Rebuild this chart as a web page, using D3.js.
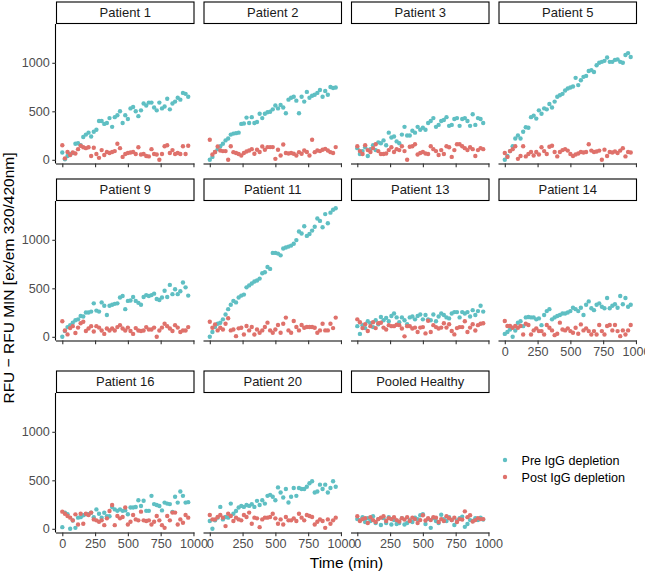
<!DOCTYPE html>
<html><head><meta charset="utf-8">
<script src="https://cdn.jsdelivr.net/npm/d3@7"></script>
<style>body{margin:0;background:#fff}svg{display:block}text{font-family:"Liberation Sans",Arial,Helvetica,sans-serif}</style>
</head><body>
<script>
const panels = ["Patient 1","Patient 2","Patient 3","Patient 5","Patient 9","Patient 11","Patient 13","Patient 14","Patient 16","Patient 20","Pooled Healthy"];
const seriesNames = ["Pre IgG depletion","Post IgG depletion"];
const time = [0,20,40,60,80,100,120,140,160,180,200,220,240,260,280,300,320,340,360,380,400,420,440,460,480,500,520,540,560,580,600,620,640,660,680,700,720,740,760,780,800,820,840,860,880,900,920,940,960];
const xTicks = [0,250,500,750,1000];
const yTicks = [0,500,1000];

const p1Pre  = [75,5,40,60,70,165,170,150,235,260,280,240,290,310,400,400,370,380,430,340,440,460,500,380,460,420,530,545,500,450,510,580,560,590,590,540,510,590,530,550,630,520,580,600,640,620,690,680,650];
const p1Post = [150,15,80,50,75,65,110,145,130,120,130,40,125,60,20,100,50,80,70,80,90,165,120,30,60,70,75,80,60,130,55,60,40,35,110,60,55,0,60,140,150,70,100,60,70,60,140,60,145];
const p2Pre  = [0,30,80,110,140,165,200,220,260,270,275,280,370,375,435,380,440,380,390,475,430,475,490,495,520,560,530,565,540,480,620,640,650,610,480,650,600,700,640,660,670,690,720,650,710,670,750,740,745];
const p2Post = [207,55,80,137,96,90,90,0,140,79,70,60,45,70,85,96,110,62,103,80,137,103,131,131,131,10,103,44,158,70,65,70,62,44,79,62,96,80,44,207,79,96,90,103,113,96,79,70,131];
const p3Pre  = [120,60,90,130,40,110,150,100,180,170,200,150,280,230,240,190,170,260,340,250,250,300,280,340,310,330,310,380,400,430,340,360,400,410,440,350,360,420,430,350,420,430,400,350,470,360,430,420,380];
const p3Post = [140,90,60,150,100,80,120,160,90,60,60,65,100,130,80,110,100,140,90,0,135,140,160,55,70,80,65,60,140,110,90,50,100,60,140,130,30,100,160,160,140,120,100,130,110,40,100,120,110];
const p5Pre  = [0,40,90,140,220,250,220,290,335,330,440,455,425,510,475,530,520,575,540,600,650,665,680,715,735,745,755,845,770,820,855,865,915,925,905,975,1000,1010,1020,1055,1010,1010,1030,1035,1010,1000,1080,1100,1060];
const p5Post = [70,30,90,110,140,10,40,140,35,60,80,45,80,55,130,90,60,135,145,80,35,80,100,110,95,60,40,55,65,80,75,80,160,95,80,85,95,0,105,40,80,75,85,70,95,120,35,80,75];
const p9Pre  = [0,60,100,120,145,170,180,215,210,250,250,260,345,270,260,355,320,225,320,330,340,345,405,420,285,370,375,410,370,350,330,410,430,420,430,445,390,380,405,475,410,535,440,490,440,470,560,510,425];
const p9Post = [160,65,25,90,110,40,95,140,155,60,85,110,55,110,95,65,30,85,65,85,65,100,120,85,65,95,60,30,90,65,60,65,100,75,75,95,0,65,95,135,110,85,60,120,95,50,65,65,100];
const p11Pre = [0,50,100,135,145,180,230,285,330,370,355,405,425,435,510,530,550,570,580,600,655,665,720,700,865,865,858,840,910,920,930,940,960,997,1085,1065,1140,1040,1060,1095,1135,1220,1195,1130,1265,1170,1280,1310,1325];
const p11Post= [156,94,128,66,94,76,135,191,66,76,7,87,94,24,111,66,101,24,76,42,66,101,146,66,42,76,122,42,135,198,66,42,163,101,66,122,94,101,101,101,94,42,66,135,66,66,135,90,198];
const p13Pre = [110,30,120,90,160,140,100,170,130,205,170,195,160,215,240,200,150,200,170,130,200,210,180,215,230,180,225,180,170,230,160,210,240,225,200,190,240,255,255,200,255,240,255,210,275,225,265,320,260];
const p13Post= [180,150,90,130,60,110,150,90,140,145,95,75,120,110,110,125,120,85,5,110,110,85,95,50,95,100,35,165,50,120,100,85,95,140,95,130,60,25,90,100,100,160,50,95,130,65,120,135,140];
const p14Pre = [30,50,75,0,65,145,160,110,200,205,200,200,180,190,120,225,265,285,180,200,215,225,240,240,250,265,300,285,265,300,225,330,365,295,275,330,345,310,295,400,295,320,335,300,420,335,400,310,330];
const p14Post= [163,111,111,94,111,94,111,24,135,122,24,66,87,59,59,24,122,94,66,17,31,146,76,66,87,59,42,94,31,128,66,87,59,24,59,24,122,59,24,111,122,66,122,59,7,66,24,66,122];
const p16Pre = [17,165,150,0,85,10,115,120,140,150,150,165,120,200,155,115,165,130,130,225,200,185,200,185,190,150,220,220,225,295,235,290,185,185,340,255,245,235,190,270,260,255,175,330,270,385,340,270,275];
const p16Post= [177,156,132,115,87,149,45,156,52,156,142,167,97,87,73,87,38,108,184,246,38,132,108,122,219,45,73,142,97,87,177,87,80,87,45,73,132,87,38,10,132,87,167,167,45,97,62,142,115];
const p20Pre = [80,0,87,115,226,97,122,115,260,156,184,219,236,226,246,236,253,226,288,246,295,260,340,350,330,295,427,375,323,410,271,330,420,340,420,410,410,434,469,490,375,385,455,410,455,375,420,490,434];
const p20Post= [142,97,97,122,142,115,28,156,132,80,115,97,87,142,122,167,52,115,108,17,97,115,115,122,156,108,52,97,45,122,87,87,108,80,156,115,87,142,132,122,45,73,97,80,10,97,52,87,115];
const pooledPre  = [100,90,120,70,110,80,130,60,100,40,110,60,120,45,90,50,60,110,45,60,90,70,115,100,140,150,50,100,10,110,80,60,145,100,80,120,90,40,85,110,125,20,50,90,80,110,90,115,95];
const pooledPost = [130,80,100,110,60,120,90,70,100,115,130,80,110,100,120,90,75,110,95,120,80,115,100,60,90,140,85,110,90,120,115,70,100,80,130,110,90,115,70,100,95,180,120,140,75,90,110,100,100];

const preValues  = [p1Pre,p2Pre,p3Pre,p5Pre,p9Pre,p11Pre,p13Pre,p14Pre,p16Pre,p20Pre,pooledPre];
const postValues = [p1Post,p2Post,p3Post,p5Post,p9Post,p11Post,p13Post,p14Post,p16Post,p20Post,pooledPost];

const colors = {"Pre IgG depletion":"#5fbfc3","Post IgG depletion":"#df716b"};

const W=645, H=573;
const colX=[56,203.5,351,498.5], pw=138.5;
const stripTop=[1.5,178.5,370.5], sh=22.5, ph=139.5;
const FONT='"Liberation Sans",Arial,sans-serif';

const svg = d3.select("body").append("svg").attr("width",W).attr("height",H);
const x = d3.scaleLinear().domain([-48,1008]).range([0,pw]);
const y = d3.scaleLinear().domain([-38,1400]).range([ph,0]);

panels.forEach((name,i)=>{
  const col=i%4, row=Math.floor(i/4);
  const g = svg.append("g").attr("transform",`translate(${colX[col]},${stripTop[row]})`);
  g.append("rect").attr("x",0.5).attr("y",0.5).attr("width",pw-1).attr("height",sh-1)
    .attr("fill","#fff").attr("stroke","#000").attr("stroke-width",1.1);
  g.append("text").attr("x",pw/2).attr("y",sh/2).attr("dy","0.36em").attr("text-anchor","middle")
    .attr("font-size","13px").attr("fill","#1a1a1a").text(name);
  const p = g.append("g").attr("transform",`translate(0,${sh})`);
  const pre = time.map((t,k)=>({t, v:preValues[i][k]}));
  const post = time.map((t,k)=>({t, v:postValues[i][k]}));
  p.selectAll("circle.pre").data(pre).join("circle").attr("class","pre")
    .attr("cx",d=>x(d.t)).attr("cy",d=>y(d.v)).attr("r",2.2).attr("fill",colors[seriesNames[0]]);
  p.selectAll("circle.post").data(post).join("circle").attr("class","post")
    .attr("cx",d=>x(d.t)).attr("cy",d=>y(d.v)).attr("r",2.2).attr("fill",colors[seriesNames[1]]);
  const showX = (row===2) || (row===1 && col===3);
  const xa = p.append("g").attr("transform",`translate(0,${ph})`)
    .call(d3.axisBottom(x).tickValues(xTicks).tickSize(3.7).tickPadding(2.5).tickFormat(showX? d3.format("d") : ""));
  xa.select(".domain").attr("stroke","#000").attr("stroke-width",1.1).attr("d",`M0,0.5H${pw}`);
  xa.selectAll(".tick line").attr("stroke","#333").attr("stroke-width",1.1);
  xa.selectAll(".tick text").attr("fill","#4d4d4d").attr("font-size","12.6px").attr("font-family",FONT);
  if(col===0){
    const ya = p.append("g").call(d3.axisLeft(y).tickValues(yTicks).tickSize(3.7).tickPadding(2.5).tickFormat(d3.format("d")));
    ya.select(".domain").attr("stroke","#000").attr("stroke-width",1.1).attr("d",`M-0.5,0V${ph}`);
    ya.selectAll(".tick line").attr("stroke","#333").attr("stroke-width",1.1);
    ya.selectAll(".tick text").attr("fill","#4d4d4d").attr("font-size","12.6px").attr("font-family",FONT);
  }
});

svg.append("text").attr("x",346.5).attr("y",568).attr("text-anchor","middle")
  .attr("font-size","15.5px").attr("fill","#000").text("Time (min)");
svg.append("text").attr("transform","translate(14,278) rotate(-90)").attr("text-anchor","middle")
  .attr("font-size","15.5px").attr("fill","#000").text("RFU \u2212 RFU MIN [ex/em 320/420nm]");

const leg = svg.append("g");
seriesNames.forEach((s,j)=>{
  leg.append("circle").attr("cx",505).attr("cy",460+j*17).attr("r",2.2).attr("fill",colors[s]);
  leg.append("text").attr("x",521.5).attr("y",460+j*17).attr("dy","0.36em")
    .attr("font-size","12.6px").attr("fill","#000").text(s);
});
</script>
</body></html>
